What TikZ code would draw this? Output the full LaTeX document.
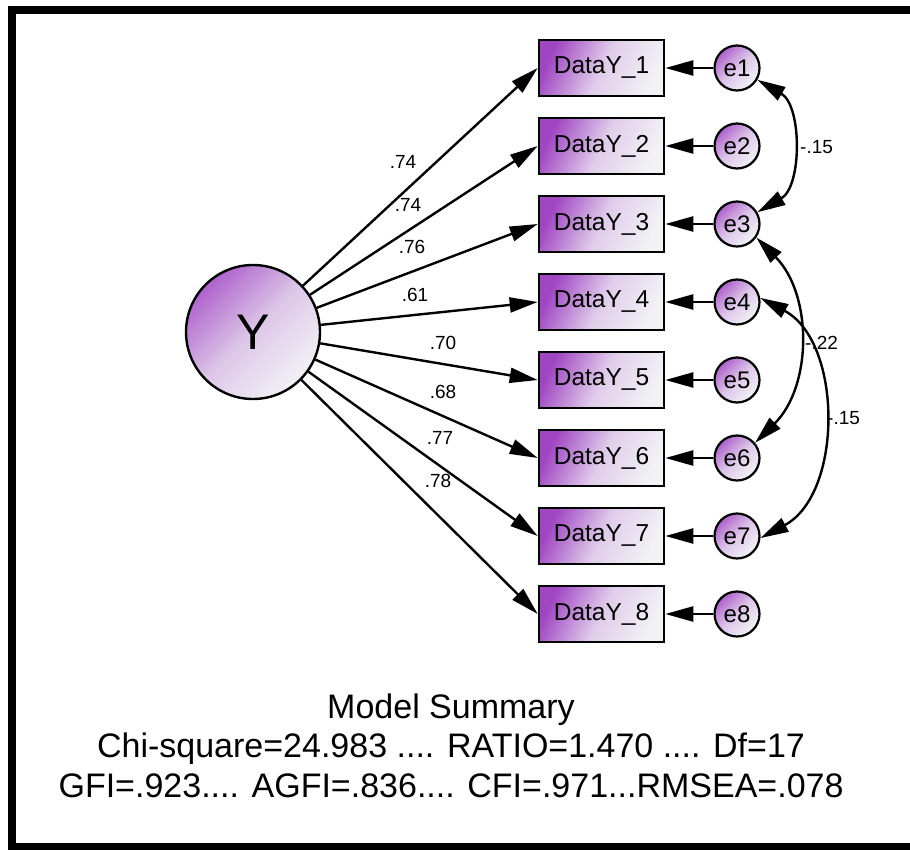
\documentclass[tikz,border=0pt]{standalone}
\usepackage{fontspec}
\setmainfont{Liberation Sans}
\usetikzlibrary{arrows.meta}
\definecolor{amospurple}{RGB}{160,70,195}
\definecolor{amoslight}{RGB}{242,242,245}
\begin{document}
\begin{tikzpicture}[x=1pt,y=-1pt,
  lat/.style={circle,draw=black,line width=2.4pt,minimum size=134pt,inner sep=0pt,
    top color=amospurple!85,bottom color=amoslight,middle color=amospurple!25!amoslight,shading angle=45,
    font=\fontsize{50}{50}\selectfont},
  obs/.style={rectangle,draw=black,line width=2.6pt,minimum width=125pt,minimum height=56pt,inner sep=0pt,
    top color=amospurple,bottom color=amoslight,middle color=amospurple!22!amoslight,shading angle=65,
    font=\fontsize{24.5}{25}\selectfont},
  err/.style={circle,draw=black,line width=2.2pt,minimum size=45pt,inner sep=0pt,
    top color=amospurple!85,bottom color=amoslight,middle color=amospurple!25!amoslight,shading angle=45,
    font=\fontsize{24}{24}\selectfont},
  tip/.tip={Triangle[length=28pt,width=15pt]},
  arr/.style={line width=2.4pt,-tip},
  cov/.style={line width=2.4pt,tip-tip},
  wlab/.style={font=\fontsize{19}{19}\selectfont,inner sep=0pt},
  sumtext/.style={font=\fontsize{34}{34}\selectfont,inner sep=0pt,anchor=base}
]
\useasboundingbox (0,0) rectangle (910,850);
\fill[white] (0,0) rectangle (910,850);
% frame
\fill[black] (8,6) rectangle (16,850);
\fill[black] (8,6) rectangle (910,14);
\fill[black] (8,843) rectangle (910,850);

\node[lat] (Y) at (253,332) {Y};

\foreach \k/\yy in {1/68,2/146,3/224,4/302,5/380,6/458,7/536,8/614}{
  \node[obs] (d\k) at (601.5,\yy) {DataY\_\k};
  \node[err] (e\k) at (737,\yy) {e\k};
  \draw[arr] (e\k) -- (d\k);
  \draw[arr] (Y) -- (d\k.west);
}

\node[wlab] (l1) at (403,162) {.74};
\node[wlab] (l2) at (408,205) {.74};
\node[wlab] (l3) at (412,247) {.76};
\node[wlab] (l4) at (415,295) {.61};
\node[wlab] (l5) at (443,343) {.70};
\node[wlab] (l6) at (443,392) {.68};
\node[wlab] (l7) at (440,438) {.77};
\node[wlab] (l8) at (438,481) {.78};

\draw[cov] (e1.-30) to[bend left=60] (e3.30);
\draw[cov] (e3.-35) to[bend left=45] (e6.40);
\draw[cov] (e4.10) to[bend left=62] (e7.-5);

\node[wlab,anchor=west] (c1) at (800,147) {-.15};
\node[wlab,anchor=west] (c2) at (805,343) {-.22};
\node[wlab,anchor=west] (c3) at (827,418) {-.15};

\node[sumtext] (s1) at (451,718) {Model Summary};
\node[sumtext] (s2) at (451,757) {Chi-square=24.983 .... RATIO=1.470 .... Df=17};
\node[sumtext] (s3) at (451,797) {GFI=.923.... AGFI=.836.... CFI=.971...RMSEA=.078};
\end{tikzpicture}
\end{document}
